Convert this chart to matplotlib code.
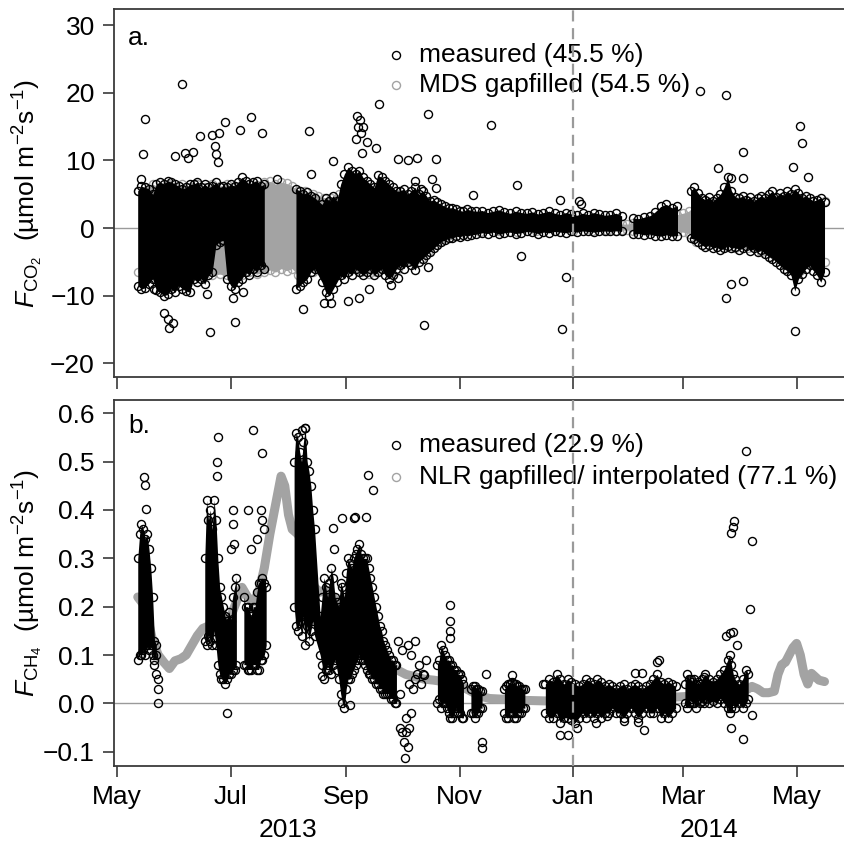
import datetime as dt
import matplotlib
matplotlib.use("Agg")
import matplotlib.pyplot as plt
import matplotlib.dates as mdates
import matplotlib.transforms as mtrans
import numpy as np

plt.rcParams['font.family'] = ['Liberation Sans', 'DejaVu Sans']
plt.rcParams['mathtext.fontset'] = 'custom'
plt.rcParams['mathtext.rm'] = 'Liberation Sans'
plt.rcParams['mathtext.it'] = 'Liberation Sans:italic'

# all days are counted from 1 May 2013
# ---- panel a: CO2 flux, measured half-hours (range of the cloud per day) ----
co2_day = [11, 13, 15, 17, 19, 21, 23, 25, 27, 29, 31, 33, 35, 37, 39, 41, 43, 45, 47, 49,
           51, 53, 55, 57, 59, 61, 63, 65, 67, 69, 71, 73, 75, 77, 79,
           96, 98, 100, 102, 104, 106,
           110, 112, 114, 116, 118,
           120, 122, 124, 126, 128, 130, 132, 134, 136, 138, 140, 142, 144, 146, 148, 150,
           152, 154, 156, 158, 160, 162, 164, 166, 168, 170, 172, 174, 176, 178, 180, 182,
           184, 186, 188, 190,
           193, 196, 199, 202, 205, 208, 211, 214, 217, 220, 223, 226, 229, 232, 235, 238,
           241, 244, 247, 250, 253, 256, 259, 262, 265, 268, 271,
           277, 280, 283, 286, 289, 292, 295, 298, 301,
           308, 310, 312, 314, 316, 318, 320, 322, 324, 326, 328, 330, 332, 334, 336, 338,
           340, 342, 344, 346, 348, 350, 352, 354, 356, 358, 360, 362, 364, 366, 368, 370,
           372, 374, 376, 378, 380]
co2_lo = [-8.5, -9.0, -8.8, -8.2, -7.5, -9.2, -9.5, -10.0, -9.8, -9.0, -9.5, -8.5, -9.0, -9.3, -9.5,
          -7.5, -8.0, -7.5, -8.3, -7.0, -6.5, -2.5, -2.0, -1.8, -7.5, -8.5, -9.0, -8.0, -7.5, -6.5,
          -7.0, -6.0, -6.5, -5.5, -6.0,
          -9.0, -8.5, -8.0, -7.5, -6.5, -6.0,
          -8.0, -9.5, -10.0, -9.0, -8.0,
          -7.0, -7.5, -6.5, -7.0, -6.0, -6.5, -7.0, -6.5, -6.0, -7.0, -6.5, -6.0, -7.0, -7.5,
          -7.0, -6.0,
          -5.5, -6.0, -5.0, -5.5, -6.2, -5.0, -4.5, -4.0, -3.5, -3.0, -2.5, -2.0, -1.8, -1.5,
          -1.5, -1.2, -1.3, -1.0, -1.2, -1.0,
          -0.9, -0.7, -0.8, -0.6, -0.9, -0.7, -0.6, -0.8, -0.7, -0.5, -0.6, -0.8, -0.6, -0.7,
          -0.5, -0.6, -0.7, -0.5, -0.6, -0.4, -0.5, -0.6, -0.5, -0.4, -0.5, -0.4, -0.5,
          -0.9, -0.8, -1.0, -0.9, -1.1, -1.2, -1.0, -1.2, -1.1,
          -1.5, -1.6, -2.0, -2.5, -2.8, -2.5, -3.0, -2.8, -3.2, -3.0, -2.6, -3.0, -2.8, -3.2,
          -3.0, -2.6, -3.4, -3.0, -3.6, -3.2, -3.8, -4.2, -4.5, -5.0, -5.5, -6.0, -6.3, -7.0,
          -9.3, -7.5, -6.8, -6.0, -5.5, -6.3, -7.0, -8.0, -6.5]
co2_hi = [5.5, 6.2, 6.0, 5.8, 5.0, 6.5, 6.8, 6.5, 7.0, 6.8, 6.5, 6.2, 5.8, 6.0, 6.5,
          6.5, 6.8, 6.0, 6.5, 6.0, 6.2, 6.8, 6.0, 6.2, 6.0, 6.5, 6.2, 6.8, 7.5, 7.0,
          6.5, 6.8, 7.0, 6.2, 6.5,
          5.8, 5.5, 5.0, 5.3, 4.8, 4.5,
          3.5, 4.5, 4.0, 4.8, 4.0,
          6.5, 8.0, 9.0, 8.5, 8.0, 8.5, 7.5, 7.0, 6.5, 6.0, 7.8, 7.5, 7.0, 6.5,
          6.0, 5.5,
          5.5, 5.8, 5.0, 5.5, 6.0, 5.0, 5.5, 4.8, 4.0, 4.2, 3.8, 3.5, 3.2, 3.0,
          3.0, 2.8, 2.6, 2.5, 2.8, 2.6,
          2.5, 2.6, 2.3, 2.5, 2.7, 2.4, 2.2, 2.5, 2.3, 2.2, 2.4, 2.1, 2.3, 2.5,
          2.2, 2.0, 2.3, 2.1, 1.9, 2.2, 2.0, 2.3, 2.1, 1.9, 2.0, 2.2, 1.8,
          1.5, 1.4, 1.6, 1.8, 2.4, 3.2, 3.5, 3.0, 3.3,
          5.5, 6.0, 5.2, 4.5, 4.2, 4.6, 4.0, 4.5, 5.0, 6.0, 7.5, 5.5, 4.6, 4.4,
          4.8, 4.2, 4.6, 4.0, 4.4, 4.8, 4.4, 5.0, 5.5, 4.6, 5.2, 4.8, 5.5, 5.0,
          5.8, 5.2, 4.5, 4.8, 4.4, 4.0, 4.2, 4.5, 3.8]

# single measured points outside the clouds
co2_out_day = [14.7, 13.8, 13, 34.8, 44.6, 54.8, 58, 66, 72, 78, 103, 116, 129, 129.5, 128,
               52.5, 53, 54, 50.7, 36.6, 40.7, 38, 31, 99.6, 63, 50, 25, 27, 28, 30, 62, 67.5,
               111, 115, 124, 130, 130.5, 131, 132, 131.5, 134, 139, 140.6, 167, 201, 215,
               191, 238, 248, 249, 217, 241, 239, 165, 151, 156, 161, 171, 160, 163, 169,
               171, 135, 147, 151, 167, 313, 327, 367, 368, 336, 363, 371, 323, 330, 336,
               330, 336, 327, 364, 20, 48, 86, 104]
co2_out_val = [16.1, 11.0, 7.2, 21.3, 13.6, 14.1, 15.7, 14.5, 16.4, 14.0, 14.3, 9.9, 16.5,
               14.9, 13.2, 12.2, 11.0, 9.7, 13.7, 11.1, 11.2, 10.3, 10.6, -12.0, -13.9, -15.3,
               -12.5, -13.5, -14.8, -14.0, -10.4, -9.5, -11.0, -11.0, -10.8, -10.3, 16.0, 14.0,
               14.9, 11.1, 12.7, 11.8, 18.4, 16.8, 15.2, 6.3, 4.9, 4.1, 4.0, 3.6, -4.1, -7.2,
               -14.9, -14.3, 10.2, 10.0, 10.3, 10.2, 7.0, 5.8, 7.2, 5.9, -9.0, -8.4, -7.4,
               -5.7, 20.3, 19.6, 15.1, 12.6, 11.3, 9.1, 7.6, 8.9, 7.4, 7.4, -8.2, -7.8, -10.3,
               -15.2, -9.0, -9.8, 7.3, 8.0]

# MDS gapfilled values (range per day)
mds_day = [11, 15, 19, 23, 27, 31, 35, 39, 43, 47, 51, 55, 59, 63, 67, 71, 75, 79, 82, 85,
           88, 91, 94, 97, 101, 105, 108, 111, 115, 119, 123, 127, 131, 135, 139, 143, 147,
           151, 155, 159, 163, 167, 171, 175, 179, 185, 195, 205, 215, 225, 235, 245, 255,
           263, 268, 271, 274, 277, 285, 293, 298, 301, 304, 307, 311, 318, 325, 332, 339,
           346, 353, 360, 367, 374, 380]
mds_lo = [-6.5, -7.0, -7.0, -7.5, -7.0, -7.0, -7.5, -6.5, -7.0, -6.5, -7.0, -6.8, -7.0, -6.5,
          -7.0, -6.5, -6.8, -6.5, -6.2, -6.5, -6.0, -6.3, -6.0, -7.0, -6.5, -6.5, -6.0, -7.0,
          -7.0, -6.5, -6.0, -6.0, -6.5, -6.8, -6.5, -6.0, -6.5, -6.0, -5.0, -5.0, -4.5, -3.5,
          -2.5, -1.5, -1.0, -0.6, -0.6, -0.5, -0.6, -0.5, -0.5, -0.5, -0.5, -0.5, -0.4, -0.3,
          -0.3, -0.4, -0.5, -0.5, -0.5, -0.5, -0.6, -0.8, -2.0, -2.5, -2.5, -3.0, -3.0, -3.5,
          -4.0, -5.0, -6.3, -5.5, -5.0]
mds_hi = [5.5, 6.0, 6.5, 6.0, 6.5, 6.0, 6.5, 6.0, 6.5, 6.0, 6.5, 6.2, 6.5, 6.0, 6.5, 6.5, 6.3,
          6.8, 6.9, 6.5, 6.8, 6.6, 6.2, 5.5, 5.5, 5.0, 4.8, 4.5, 4.5, 5.0, 5.5, 6.0, 6.0, 5.5,
          5.0, 5.0, 5.0, 5.0, 4.5, 4.5, 4.0, 3.5, 3.0, 2.5, 2.0, 1.5, 1.5, 1.4, 1.4, 1.3, 1.3,
          1.2, 1.2, 1.0, 0.9, 0.6, 0.6, 0.8, 1.2, 1.2, 1.5, 2.0, 2.2, 2.5, 3.5, 3.5, 3.8, 4.0,
          4.0, 4.0, 4.2, 4.5, 4.5, 4.0, 4.0]

# ---- panel b: CH4 flux ----
ch4_day = [11, 12, 13, 14, 15, 16, 17, 18, 19, 20, 21,
           47, 48, 49, 50, 51, 52, 53, 54, 55, 56, 57, 58, 59, 60, 61, 62, 63, 64,
           68, 69, 70, 71, 72, 73, 74, 75, 76, 77, 78, 79, 80,
           95, 96, 97, 98, 99, 100, 101, 102, 103, 104, 105, 106,
           109, 110, 111, 112, 113, 114, 115, 116, 117, 118, 119,
           120, 121, 122, 123, 124, 125, 126, 127, 128, 129, 130, 131, 132, 133, 134, 135,
           136, 137, 138, 139, 140, 141, 142, 143, 144, 145, 146, 147, 148, 149, 150,
           172, 173, 174, 175, 176, 177, 178, 179, 180, 181, 182, 183, 184, 185, 186,
           190, 191, 192, 193, 194, 195, 196,
           208, 209, 210, 211, 212, 213, 214, 215, 216, 217, 218, 219,
           230, 232, 234, 236, 238, 240, 242, 244, 246, 248, 250, 252, 254, 256, 258, 260,
           262, 264, 266, 268, 270, 272, 274, 276, 278, 280, 282, 284, 286, 288, 290, 292,
           294, 296, 298, 300,
           305, 306, 307, 308, 309, 310, 311, 312, 313, 314, 315, 316, 318, 320, 322, 324,
           326, 328, 329, 330, 331, 332, 334, 336, 338, 339]
ch4_lo = [0.09, 0.10, 0.10, 0.11, 0.10, 0.12, 0.11, 0.12, 0.10, 0.09, 0.10,
          0.13, 0.12, 0.14, 0.13, 0.12, 0.15, 0.12, 0.08, 0.06, 0.05, 0.05, 0.04, 0.05, 0.06,
          0.06, 0.07, 0.07, 0.08,
          0.08, 0.08, 0.07, 0.07, 0.07, 0.08, 0.08, 0.07, 0.07, 0.09, 0.09, 0.10, 0.12,
          0.20, 0.16, 0.15, 0.17, 0.14, 0.18, 0.12, 0.16, 0.13, 0.15, 0.17, 0.14,
          0.10, 0.08, 0.05, 0.07, 0.08, 0.07, 0.06, 0.08, 0.09, 0.07, 0.05,
          0.02, 0.00, -0.01, 0.03, 0.05, 0.05, 0.06, 0.07, 0.08, 0.09, 0.10, 0.09, 0.09,
          0.08, 0.07, 0.06, 0.06, 0.05, 0.05, 0.04, 0.04, 0.03, 0.03, 0.02, 0.02, 0.02, 0.02,
          0.01, 0.01, 0.00, 0.00,
          0.00, 0.01, -0.01, 0.00, 0.00, -0.01, -0.02, -0.03, -0.03, -0.02, -0.01, -0.02,
          -0.02, -0.03, -0.03,
          -0.02, -0.02, -0.03, -0.02, -0.02, -0.01, -0.01,
          -0.02, -0.03, -0.03, -0.02, -0.02, -0.03, -0.03, -0.02, -0.02, -0.02, -0.01, -0.01,
          -0.02, -0.03, -0.03, -0.02, -0.04, -0.03, -0.03, -0.035, -0.04, -0.03, -0.02, -0.03,
          -0.02, -0.03, -0.02, -0.03, -0.02, -0.02, -0.01, -0.02, -0.02, -0.03, -0.02, -0.01,
          -0.02, -0.03, -0.02, -0.01, -0.02, -0.02, -0.01, -0.03, -0.02, -0.03, -0.02, -0.01,
          0.00, -0.01, 0.00, 0.01, 0.00, 0.00, -0.01, 0.01, 0.00, 0.005, 0.00, 0.01, 0.00,
          0.005, 0.00, 0.01, 0.00, -0.01, -0.02, -0.01, 0.00, -0.01, 0.00, -0.01, 0.00, 0.01]
ch4_hi = [0.30, 0.35, 0.37, 0.36, 0.34, 0.35, 0.32, 0.28, 0.22, 0.13, 0.12,
          0.30, 0.42, 0.38, 0.40, 0.36, 0.42, 0.38, 0.30, 0.24, 0.22, 0.20, 0.18, 0.17, 0.19,
          0.17, 0.22, 0.24, 0.26,
          0.22, 0.20, 0.20, 0.19, 0.18, 0.20, 0.20, 0.23, 0.25, 0.25, 0.26, 0.25, 0.24,
          0.50, 0.56, 0.55, 0.52, 0.50, 0.54, 0.57, 0.50, 0.48, 0.45, 0.40, 0.36,
          0.18, 0.22, 0.26, 0.24, 0.22, 0.25, 0.28, 0.26, 0.22, 0.21, 0.20,
          0.25, 0.24, 0.22, 0.27, 0.30, 0.29, 0.28, 0.30, 0.31, 0.32, 0.33, 0.31, 0.30,
          0.30, 0.30, 0.28, 0.26, 0.24, 0.22, 0.20, 0.18, 0.16, 0.15, 0.13, 0.12, 0.11, 0.10,
          0.09, 0.09, 0.08, 0.08,
          0.08, 0.09, 0.12, 0.11, 0.10, 0.09, 0.09, 0.08, 0.08, 0.07, 0.07, 0.06, 0.06,
          0.05, 0.04,
          0.03, 0.035, 0.035, 0.03, 0.03, 0.025, 0.025,
          0.03, 0.035, 0.04, 0.04, 0.045, 0.04, 0.04, 0.035, 0.035, 0.03, 0.03, 0.03,
          0.04, 0.05, 0.045, 0.06, 0.05, 0.04, 0.05, 0.045, 0.04, 0.035, 0.04, 0.05,
          0.045, 0.04, 0.05, 0.045, 0.035, 0.04, 0.035, 0.03, 0.035, 0.04, 0.03, 0.035,
          0.04, 0.035, 0.03, 0.035, 0.04, 0.05, 0.06, 0.045, 0.04, 0.045, 0.04, 0.035,
          0.04, 0.06, 0.05, 0.05, 0.045, 0.05, 0.04, 0.045, 0.04, 0.05, 0.055, 0.06, 0.05,
          0.045, 0.05, 0.06, 0.07, 0.09, 0.10, 0.08, 0.06, 0.05, 0.04, 0.05, 0.07, 0.06]

ch4_out_day = [14.5, 15, 15.5, 20, 21, 22, 22, 22, 54, 53.5, 53.5, 59, 62, 62, 62.5, 61,
               73, 78, 70, 72, 75, 77, 78, 79, 101, 99, 121, 127, 116, 116.5, 110, 125,
               134.5, 137.5, 127.5, 133.8, 151, 153, 156, 158, 160, 152, 152, 153, 154,
               154.6, 155, 155, 156, 157, 157, 158, 159, 160, 161, 162, 163, 164, 165, 166,
               179, 179, 179, 179, 196, 196, 184, 198, 212, 229, 238, 247, 242, 257, 263,
               272, 278, 282, 280, 283, 290, 291, 338, 330, 331, 331.5, 341, 340, 336, 327,
               329, 331, 333, 330, 341]
ch4_out_val = [0.469, 0.452, 0.402, 0.08, 0.06, 0.0, 0.03, 0.05, 0.552, 0.50, 0.47, -0.021,
               0.40, 0.37, 0.33, 0.32, 0.565, 0.518, 0.40, 0.32, 0.34, 0.40, 0.38, 0.36, 0.569,
               0.565, 0.384, 0.384, 0.363, 0.319, 0.057, -0.003, 0.473, 0.442, 0.386, 0.386,
               0.13, 0.11, 0.12, 0.10, 0.13, -0.05, 0.02, -0.06, -0.08, -0.113, -0.06, -0.03,
               -0.09, -0.05, 0.04, -0.02, 0.03, 0.05, 0.06, 0.08, 0.04, 0.06, 0.058, 0.09,
               0.204, 0.17, 0.15, 0.135, -0.080, -0.093, 0.06, 0.06, 0.058, 0.04, -0.066,
               -0.05, -0.065, -0.04, -0.026, -0.036, 0.062, 0.062, -0.038, -0.055, 0.086,
               0.09, 0.523, 0.353, 0.365, 0.378, 0.335, 0.195, -0.074, 0.14, 0.145, 0.148,
               0.12, -0.05, -0.025]

# NLR gapfilled / interpolated CH4 (continuous)
nlr_day = [11, 15, 19, 22, 25, 28, 31, 34, 37, 40, 43, 46, 49, 52, 55, 58, 61, 64, 67, 70,
           73, 76, 79, 82, 85, 88, 90, 92, 94, 97, 100, 103, 106, 109, 112, 115, 118, 121,
           125, 130, 135, 140, 145, 150, 155, 160, 165, 170, 175, 180, 185, 190, 195, 200,
           210, 220, 230, 240, 250, 260, 270, 280, 290, 300, 310, 320, 330, 336, 339, 341,
           344, 347, 350, 353, 355, 357, 359, 361, 363, 365, 367, 369, 371, 373, 375, 377,
           380]
nlr_val = [0.22, 0.20, 0.13, 0.10, 0.085, 0.072, 0.088, 0.092, 0.10, 0.12, 0.14, 0.155, 0.16,
           0.15, 0.14, 0.15, 0.18, 0.21, 0.24, 0.22, 0.21, 0.23, 0.28, 0.35, 0.41, 0.47, 0.45,
           0.39, 0.36, 0.35, 0.33, 0.27, 0.24, 0.23, 0.235, 0.225, 0.21, 0.19, 0.16, 0.13,
           0.12, 0.10, 0.08, 0.07, 0.06, 0.055, 0.05, 0.048, 0.045, 0.04, 0.035, 0.025, 0.015,
           0.01, 0.008, 0.006, 0.005, 0.006, 0.008, 0.01, 0.01, 0.012, 0.012, 0.013, 0.015,
           0.018, 0.02, 0.025, 0.03, 0.035, 0.03, 0.022, 0.022, 0.025, 0.06, 0.08, 0.085,
           0.10, 0.115, 0.124, 0.10, 0.06, 0.04, 0.062, 0.055, 0.048, 0.045]

month_ticks = [dt.datetime(2013, 5, 1), dt.datetime(2013, 7, 1), dt.datetime(2013, 9, 1),
               dt.datetime(2013, 11, 1), dt.datetime(2014, 1, 1), dt.datetime(2014, 3, 1),
               dt.datetime(2014, 5, 1)]
month_labels = ['May', 'Jul', 'Sep', 'Nov', 'Jan', 'Mar', 'May']
years = ['2013', '2014']
year_pos = [91.5, 317.7]

t0 = mdates.date2num(dt.datetime(2013, 5, 1))
BLACK = '#000000'
GREY = '#a3a3a3'
BOX = '#3a3a3a'
FS = 19


def cloud(ax, days, lo, hi, color, z, maxgap=5):
    # fill the daily range of each run of days, circles mark the extremes
    d = np.asarray(days, dtype=float)
    lo = np.asarray(lo, dtype=float)
    hi = np.asarray(hi, dtype=float)
    cuts = np.where(np.diff(d) > maxgap)[0] + 1
    for idx in np.split(np.arange(len(d)), cuts):
        ax.fill_between(t0 + d[idx], lo[idx], hi[idx], color=color, lw=0, zorder=z)
    ax.plot(t0 + d, lo, 'o', mfc='none', mec=color, ms=5.8, mew=1.0, zorder=z)
    ax.plot(t0 + d, hi, 'o', mfc='none', mec=color, ms=5.8, mew=1.0, zorder=z)


def points(ax, days, vals, color, z):
    x = t0 + np.asarray(days, dtype=float)
    ax.plot(x, vals, 'o', mfc='none', mec=color, ms=5.8, mew=1.0, zorder=z)


fig = plt.figure(figsize=(8.44, 8.47), dpi=100)
ax1 = fig.add_axes([0.1354, 0.5553, 0.8693, 0.4335])
ax2 = fig.add_axes([0.1354, 0.0956, 0.8693, 0.4321])

# panel a
cloud(ax1, mds_day, mds_lo, mds_hi, GREY, 2, maxgap=20)
cloud(ax1, co2_day, co2_lo, co2_hi, BLACK, 3)
points(ax1, co2_out_day, co2_out_val, BLACK, 3)
ax1.set_ylim(-21.95, 32.3)
ax1.set_yticks([-20, -10, 0, 10, 20, 30])
ax1.set_yticklabels(['\u221220', '\u221210', '0', '10', '20', '30'])
ax1.set_ylabel(r'$F_{\mathrm{CO_2}}$  (µmol m$^{-2}$s$^{-1}$)', fontsize=FS)

# panel b
ax2.plot(t0 + np.asarray(nlr_day, dtype=float), nlr_val, color=GREY, lw=6.5,
         solid_capstyle='round', solid_joinstyle='round', zorder=2)
cloud(ax2, ch4_day, ch4_lo, ch4_hi, BLACK, 3, maxgap=3)
points(ax2, ch4_out_day, ch4_out_val, BLACK, 3)
ax2.set_ylim(-0.1297, 0.6275)
ax2.set_yticks([-0.1, 0.0, 0.1, 0.2, 0.3, 0.4, 0.5, 0.6])
ax2.set_yticklabels(['\u22120.1', '0.0', '0.1', '0.2', '0.3', '0.4', '0.5', '0.6'])
ax2.set_ylabel(r'$F_{\mathrm{CH_4}}$  (µmol m$^{-2}$s$^{-1}$)', fontsize=FS)

legends = [(ax1, 'a.', 'measured (45.5 %)', 'MDS gapfilled (54.5 %)', 0.876, 0.795, 0.903),
           (ax2, 'b.', 'measured (22.9 %)', 'NLR gapfilled/ interpolated (77.1 %)',
            0.877, 0.790, 0.91)]
for ax, tag, lab1, lab2, y1, y2, ytag in legends:
    ax.set_xlim(t0 - 1.61, t0 + 392.6)
    ax.axhline(0, color='#9a9a9a', lw=1.0, zorder=1)
    ax.axvline(mdates.date2num(dt.datetime(2014, 1, 1)), color='#9a9a9a', lw=1.6,
               ls=(0, (5, 3)), zorder=5)
    ax.set_xticks([mdates.date2num(d) for d in month_ticks])
    ax.tick_params(axis='both', direction='out', length=8, width=1.2, color=BOX,
                   labelsize=FS, pad=6)
    ax.yaxis.set_label_coords(-0.095, 0.5)
    for s in ax.spines.values():
        s.set_color(BOX)
        s.set_linewidth(1.3)
    ax.text(0.0187, ytag, tag, transform=ax.transAxes, fontsize=FS, va='baseline', ha='left')
    ax.plot([0.3836], [y1], 'o', mfc='none', mec=BLACK, ms=5.8, mew=1.0,
            transform=ax.transAxes, clip_on=False)
    ax.plot([0.3836], [y2], 'o', mfc='none', mec=GREY, ms=5.8, mew=1.0,
            transform=ax.transAxes, clip_on=False)
    ax.text(0.416, y1, lab1, transform=ax.transAxes, fontsize=FS, va='center', ha='left')
    ax.text(0.416, y2, lab2, transform=ax.transAxes, fontsize=FS, va='center', ha='left')

ax1.set_xticklabels([])
ax1.tick_params(axis='x', length=8.5)
ax2.set_xticklabels(month_labels)

trans = mtrans.blended_transform_factory(ax2.transData, ax2.transAxes)
for yr, pos in zip(years, year_pos):
    ax2.text(t0 + pos, -0.175, yr, transform=trans, fontsize=FS, ha='center', va='center')

fig.savefig('out.png', dpi=100)
